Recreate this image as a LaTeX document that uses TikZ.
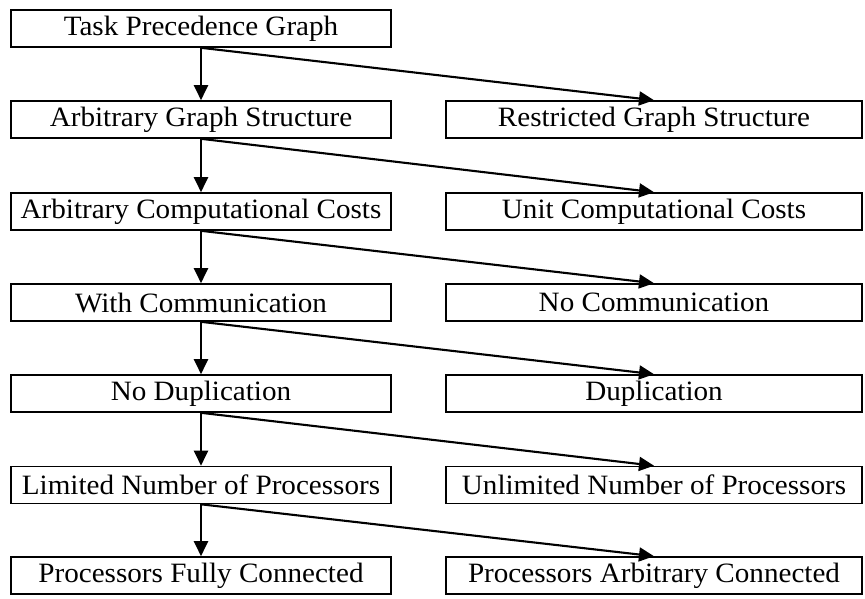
\documentclass[tikz,border=0pt]{standalone}
\usepackage{fontspec}
\setmainfont[FakeStretch=1.04]{Liberation Serif}
\usetikzlibrary{arrows.meta}
\begin{document}
\begin{tikzpicture}[x=1pt,y=-1pt,
  box/.style={draw, line width=1.6pt, rectangle, inner sep=0pt,
    minimum height=37pt, font=\fontsize{28}{32}\selectfont},
  leftbox/.style={box, minimum width=380pt},
  rightbox/.style={box, minimum width=416pt},
  arr/.style={-{Triangle[length=15pt,width=14pt]}, line width=2.1pt}]
\useasboundingbox (0,0) rectangle (865,598);
% left column: the chosen branch at each level
\node[leftbox] (l1) at (201,28.5) {Task Precedence Graph};
\node[leftbox] (l2) at (201,119.5) {Arbitrary Graph Structure};
\node[leftbox] (l3) at (201,211.5) {Arbitrary Computational Costs};
\node[leftbox] (l4) at (201,302.5) {With Communication};
\node[leftbox] (l5) at (201,393.5) {No Duplication};
\node[leftbox] (l6) at (201,485) {Limited Number of Processors};
\node[leftbox] (l7) at (201,575.5) {Processors Fully Connected};
% right column: the alternative branch
\node[rightbox] (r2) at (654,119.5) {Restricted Graph Structure};
\node[rightbox] (r3) at (654,211.5) {Unit Computational Costs};
\node[rightbox] (r4) at (654,302.5) {No Communication};
\node[rightbox] (r5) at (654,393.5) {Duplication};
\node[rightbox] (r6) at (654,485) {Unlimited Number of Processors};
\node[rightbox] (r7) at (654,575.5) {Processors Arbitrary Connected};
% connectors
\foreach \a/\b in {1/2,2/3,3/4,4/5,5/6,6/7}{
  \draw[arr] (l\a.south) -- (l\b.north);
  \draw[arr] (l\a.south) -- (r\b.north);
}
\end{tikzpicture}
\end{document}
